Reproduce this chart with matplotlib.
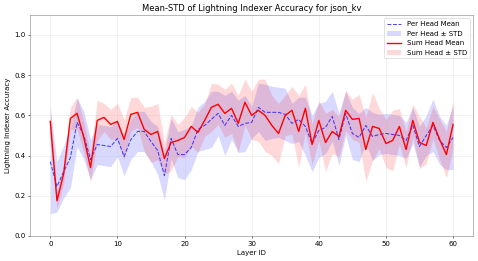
import numpy as np
import matplotlib
matplotlib.use("Agg")
import matplotlib.pyplot as plt

# 每層的 accuracy 平均值與標準差
layers = np.arange(61)

per_head_mean = [0.37, 0.245, 0.32, 0.39, 0.565, 0.50, 0.38, 0.455, 0.45, 0.445,
                 0.485, 0.395, 0.48, 0.52, 0.52, 0.47, 0.425, 0.30, 0.485, 0.405,
                 0.405, 0.44, 0.53, 0.55, 0.58, 0.61, 0.55, 0.60, 0.545, 0.56,
                 0.565, 0.64, 0.615, 0.615, 0.615, 0.605, 0.56, 0.58, 0.545, 0.46,
                 0.525, 0.54, 0.595, 0.48, 0.61, 0.51, 0.49, 0.55, 0.495, 0.505,
                 0.51, 0.505, 0.50, 0.475, 0.55, 0.445, 0.50, 0.55, 0.475, 0.44,
                 0.49]
per_head_std = [0.26, 0.125, 0.13, 0.15, 0.12, 0.12, 0.10, 0.10, 0.10, 0.10,
                0.09, 0.095, 0.10, 0.10, 0.10, 0.10, 0.12, 0.12, 0.10, 0.115,
                0.125, 0.11, 0.11, 0.12, 0.14, 0.11, 0.15, 0.12, 0.13, 0.14,
                0.08, 0.12, 0.14, 0.13, 0.125, 0.13, 0.10, 0.11, 0.145, 0.14,
                0.135, 0.13, 0.125, 0.13, 0.11, 0.13, 0.12, 0.09, 0.12, 0.10,
                0.10, 0.10, 0.10, 0.09, 0.09, 0.10, 0.10, 0.13, 0.12, 0.11,
                0.16]

sum_head_mean = [0.57, 0.175, 0.31, 0.585, 0.61, 0.49, 0.34, 0.575, 0.59, 0.555,
                 0.57, 0.48, 0.605, 0.615, 0.53, 0.505, 0.52, 0.385, 0.465, 0.475,
                 0.49, 0.545, 0.515, 0.575, 0.64, 0.655, 0.61, 0.635, 0.56, 0.665,
                 0.60, 0.625, 0.60, 0.55, 0.51, 0.60, 0.625, 0.52, 0.635, 0.455,
                 0.575, 0.465, 0.52, 0.495, 0.625, 0.58, 0.585, 0.43, 0.545, 0.535,
                 0.46, 0.475, 0.545, 0.43, 0.575, 0.465, 0.45, 0.565, 0.48, 0.405,
                 0.555]
sum_head_std = [0.09, 0.04, 0.05, 0.055, 0.08, 0.08, 0.07, 0.10, 0.07, 0.075,
                0.09, 0.10, 0.085, 0.075, 0.11, 0.14, 0.14, 0.08, 0.14, 0.08,
                0.10, 0.10, 0.10, 0.08, 0.12, 0.10, 0.12, 0.125, 0.14, 0.115,
                0.12, 0.155, 0.18, 0.15, 0.15, 0.10, 0.12, 0.18, 0.12, 0.10,
                0.10, 0.145, 0.11, 0.10, 0.10, 0.10, 0.12, 0.16, 0.17, 0.10,
                0.12, 0.15, 0.09, 0.09, 0.08, 0.13, 0.09, 0.08, 0.10, 0.115,
                0.12]

per_head_mean = np.array(per_head_mean)
per_head_std = np.array(per_head_std)
sum_head_mean = np.array(sum_head_mean)
sum_head_std = np.array(sum_head_std)

fig = plt.figure(figsize=(9.56, 5.22), dpi=50)
ax = fig.add_axes([0.063, 0.096, 0.927, 0.847])

ax.plot(layers, per_head_mean, "--", color="blue", alpha=0.7, linewidth=1.5, label="Per Head Mean")
ax.fill_between(layers, per_head_mean - per_head_std, per_head_mean + per_head_std,
                color="blue", alpha=0.15, linewidth=0, label="Per Head ± STD")
ax.plot(layers, sum_head_mean, "-", color="red", linewidth=2, label="Sum Head Mean")
ax.fill_between(layers, sum_head_mean - sum_head_std, sum_head_mean + sum_head_std,
                color="red", alpha=0.15, linewidth=0, label="Sum Head ± STD")

ax.set_ylim(0, 1.1)
ax.set_xlabel("Layer ID")
ax.set_ylabel("Lightning Indexer Accuracy")
ax.set_title("Mean-STD of Lightning Indexer Accuracy for json_kv")
ax.grid(True, alpha=0.3)
for s in ax.spines.values():
    s.set_color("gray")
ax.legend(loc="upper right")

fig.savefig("out.png", dpi=50)
